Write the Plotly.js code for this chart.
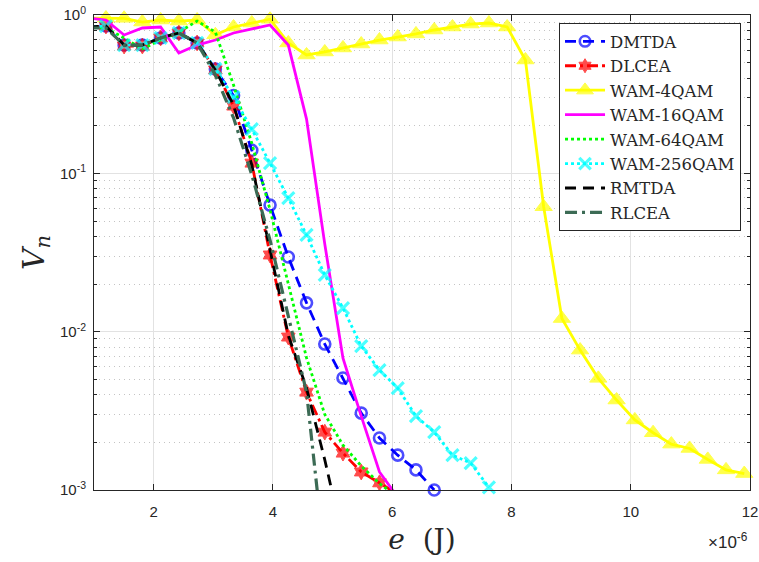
<!DOCTYPE html>
<html>
<head>
<meta charset="utf-8">
<script src="https://cdn.plot.ly/plotly-3.0.1.min.js"></script>
<style>html,body{margin:0;padding:0;background:#fff;}#chart{width:759px;height:562px;}</style>
</head>
<body>
<div id="chart"></div>
<script>
// Energy values (x 1e-6 J)
const energy = [0.894, 1.200, 1.505, 1.811, 2.117, 2.423, 2.729, 3.035, 3.340, 3.646, 3.952, 4.258, 4.564, 4.870, 5.175, 5.481, 5.787, 6.093, 6.399, 6.705, 7.011, 7.316, 7.622, 7.928, 8.234, 8.540, 8.846, 9.151, 9.457, 9.763, 10.069, 10.375, 10.681, 10.987, 11.292, 11.598, 11.904];

const DMTDA  = [0.84, 0.852, 0.646, 0.646, 0.716, 0.77, 0.666, 0.456, 0.31, 0.14, 0.063, 0.0296, 0.0152, 0.00835, 0.0051, 0.00306, 0.00213, 0.00166, 0.00134, 0.001];
const DLCEA  = [0.84, 0.852, 0.637, 0.637, 0.716, 0.77, 0.666, 0.45, 0.266, 0.116, 0.0305, 0.00925, 0.00415, 0.00232, 0.00171, 0.0013, 0.00111, 0.00094];
const WAM4   = [0.957, 0.957, 0.953, 0.903, 0.93, 0.916, 0.93, 0.75, 0.84, 0.89, 0.94, 0.666, 0.559, 0.584, 0.619, 0.656, 0.695, 0.726, 0.759, 0.804, 0.84, 0.877, 0.89, 0.84, 0.52, 0.0615, 0.0121, 0.00765, 0.00507, 0.0037, 0.00277, 0.0023, 0.00195, 0.00183, 0.00156, 0.00134, 0.00127];
const WAM16  = [0.957, 0.93, 0.748, 0.828, 0.84, 0.575, 0.646, 0.695, 0.77, 0.816, 0.865, 0.646, 0.22, 0.0357, 0.0068, 0.00293, 0.0013, 0.0009];
const WAM64  = [0.84, 0.828, 0.716, 0.61, 0.695, 0.78, 0.916, 0.78, 0.361, 0.155, 0.0588, 0.0197, 0.00683, 0.0030, 0.00192, 0.00142, 0.0011, 0.0009];
const WAM256 = [0.84, 0.852, 0.646, 0.646, 0.716, 0.77, 0.666, 0.456, 0.303, 0.19, 0.116, 0.0698, 0.0408, 0.0228, 0.0141, 0.0081, 0.00572, 0.0044, 0.00293, 0.00232, 0.00166, 0.00148, 0.00104];
const RMTDA  = [0.84, 0.852, 0.646, 0.646, 0.716, 0.77, 0.666, 0.45, 0.27, 0.113, 0.0328, 0.0095, 0.0044, 0.00155, 0.00049];
const RLCEA  = [0.828, 0.828, 0.646, 0.646, 0.716, 0.77, 0.666, 0.418, 0.224, 0.0977, 0.0379, 0.0127, 0.00415, 0.00036];

const names = ['DMTDA', 'DLCEA', 'WAM-4QAM', 'WAM-16QAM', 'WAM-64QAM', 'WAM-256QAM', 'RMTDA', 'RLCEA'];
const yTickVals = [0.001, 0.01, 0.1, 1];
const yTickText = ['10<sup>-3</sup>', '10<sup>-2</sup>', '10<sup>-1</sup>', '10<sup>0</sup>'];

const X_MIN = 1, X_MAX = 12, Y_MIN = 0.001, Y_MAX = 1;
function sizes(ys, s) {
  return ys.map((v, i) => (energy[i] >= X_MIN && energy[i] <= X_MAX && v >= Y_MIN * 0.999 && v <= Y_MAX) ? s : 0);
}
function tr(ys, name, line, marker) {
  const t = {
    x: energy.slice(0, ys.length), y: ys, name: name, type: 'scatter',
    mode: marker ? 'lines+markers' : 'lines', line: line, cliponaxis: false
  };
  if (marker) { t.marker = Object.assign({}, marker, {size: sizes(ys, marker.size)}); }
  return t;
}
const LW = 2.8;
const traces = [
  tr(DMTDA, names[0], {color: '#0000ff', width: LW, dash: '11px,7px'},
     {symbol: 'circle-open', size: 11, color: '#0000ff', line: {color: '#0000ff', width: 2.6}}),
  tr(DLCEA, names[1], {color: '#ff0000', width: LW, dash: '11px,4px,3px,4px'},
     {symbol: 'hexagram', size: 12, color: '#ff0000', line: {color: '#ff0000', width: 1}}),
  tr(WAM4, names[2], {color: '#ffff00', width: LW},
     {symbol: 'triangle-up', size: 15, color: '#ffff00', line: {color: '#ffff00', width: 1}}),
  tr(WAM16, names[3], {color: '#ff00ff', width: LW}),
  tr(WAM64, names[4], {color: '#00ff00', width: LW, dash: '3px,3px'}),
  tr(WAM256, names[5], {color: '#00ffff', width: LW, dash: '3px,3px'},
     {symbol: 'x-thin-open', size: 12, color: '#00ffff', line: {color: '#00ffff', width: 3.2}}),
  tr(RMTDA, names[6], {color: '#000000', width: LW, dash: '11px,7px'}),
  tr(RLCEA, names[7], {color: '#3c6b55', width: 3.2, dash: '12px,5px,3px,5px'})
];

const minorVals = [];
yTickVals.slice(0, -1).forEach(d => { for (let m = 2; m <= 9; m++) minorVals.push(d * m); });

const axisCommon = {
  showline: true, linecolor: '#262626', linewidth: 1, mirror: 'ticks',
  ticks: 'inside', ticklen: 6, tickcolor: '#262626',
  showgrid: true, gridcolor: '#e2e2e2', gridwidth: 1, zeroline: false,
  tickfont: {family: 'Liberation Sans, Arial, sans-serif', size: 15, color: '#262626'}
};

const layout = {
  width: 759, height: 562,
  margin: {l: 94, r: 9, t: 15, b: 72},
  paper_bgcolor: '#ffffff', plot_bgcolor: '#ffffff',
  showlegend: true,
  xaxis: Object.assign({}, axisCommon, {
    range: [X_MIN, X_MAX], tickmode: 'linear', tick0: 0, dtick: 2,
    ticklabelstandoff: 8,
    title: {text: '<i>e</i>  (J)', font: {family: 'DejaVu Serif, serif', size: 28, color: '#262626'}, standoff: 10}
  }),
  yaxis: Object.assign({}, axisCommon, {
    type: 'log', range: [Math.log10(Y_MIN), Math.log10(Y_MAX)],
    tickmode: 'array', tickvals: yTickVals, ticktext: yTickText,
    ticklabelstandoff: 4,
    minor: {tickmode: 'array', tickvals: minorVals, ticks: 'inside', ticklen: 3, tickcolor: '#262626',
            showgrid: true, gridcolor: '#c4c4c4', gridwidth: 1, griddash: '1px,4px'},
    title: {text: '<i>V</i><sub><i>n</i></sub>', font: {family: 'DejaVu Serif, serif', size: 30, color: '#262626'}, standoff: 6}
  }),
  legend: {
    x: 0.9863, xanchor: 'right', y: 0.983, yanchor: 'top',
    bgcolor: '#ffffff', bordercolor: '#262626', borderwidth: 1,
    font: {family: 'DejaVu Serif, serif', size: 16.5, color: '#262626'},
    itemwidth: 40, tracegroupgap: 0
  },
  annotations: [{
    xref: 'paper', yref: 'paper', x: 1.0, y: -0.107, xanchor: 'right', yanchor: 'middle',
    text: '×10<sup>-6</sup>', showarrow: false,
    font: {family: 'Liberation Sans, Arial, sans-serif', size: 17, color: '#262626'}
  }]
};

Plotly.newPlot('chart', traces, layout, {displayModeBar: false, staticPlot: true});
</script>
</body>
</html>
